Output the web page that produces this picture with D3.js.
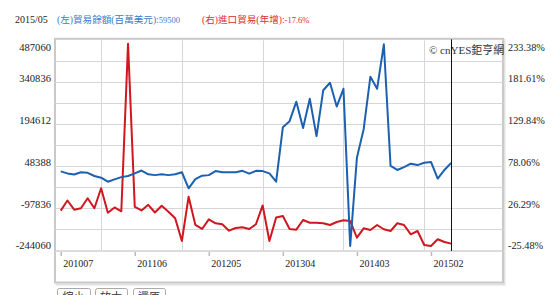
<!DOCTYPE html>
<html>
<head>
<meta charset="utf-8">
<script src="https://cdn.jsdelivr.net/npm/d3@7"></script>
<style>
  body { margin: 0; background: #fff; }
  svg text { font-family: "Liberation Serif", "Noto Sans CJK TC", serif; }
</style>
</head>
<body>
<svg id="chart" width="554" height="295"></svg>
<script>
// months 201007 .. 201505
const months = [
    "201007","201008","201009","201010","201011","201012",
    "201101","201102","201103","201104","201105","201106","201107","201108","201109","201110","201111","201112",
    "201201","201202","201203","201204","201205","201206","201207","201208","201209","201210","201211","201212",
    "201301","201302","201303","201304","201305","201306","201307","201308","201309","201310","201311","201312",
    "201401","201402","201403","201404","201405","201406","201407","201408","201409","201410","201411","201412",
    "201501","201502","201503","201504","201505"
];

// (左) 貿易餘額 (百萬美元)
const tradeBalance = [
    30000, 23000, 19000, 27000, 25000, 14000,
    8000, -6000, 2000, 10000, 14000, 23000, 33000, 20000, 17000, 20000, 17000, 20000,
    27000, -29000, 3000, 15000, 17000, 31000, 27000, 27000, 27000, 32000, 22000, 32000,
    31000, 23000, -6000, 184000, 205000, 273000, 181000, 283000, 153000, 313000, 339000, 256000,
    318000, -230000, 78000, 177000, 360000, 318000, 473000, 49000, 35000, 45000, 57000, 52000,
    60000, 63000, 5000, 35000, 59500
];

// (右) 進口貿易 年增 (%)
const importYoY = [
    23.1, 35.6, 24.3, 26.0, 38.4, 26.0,
    50.7, 20.6, 27.0, 22.3, 229.2, 27.9, 23.3, 30.3, 20.8, 29.2, 21.8, 13.7,
    -14.3, 40.3, 5.4, 0.5, 12.4, 7.5, 6.3, -1.6, 1.7, 2.6, 0.5, 6.3,
    29.5, -14.3, 14.7, 16.5, 0.5, -0.4, 11.6, 8.2, 8.2, 7.5, 5.4, 9.1,
    11.2, 10.3, -10.3, 1.3, -0.8, 5.4, 0.1, -2.0, 7.5, 5.4, -6.1, -2.0,
    -19.3, -20.5, -12.2, -15.6, -17.6
];

const leftTicks = [487060, 340836, 194612, 48388, -97836, -244060];
const rightTicks = [233.38, 181.61, 129.84, 78.06, 26.29, -25.48];
const xTickLabels = ["201007", "201106", "201205", "201304", "201403", "201502"];
const yearLines = ["201101", "201201", "201301", "201401", "201501"];

const svg = d3.select("#chart");
const plot = { left: 55, right: 503, top: 40.3, bottom: 250 };

const x = d3.scaleLinear()
    .domain([-0.85, 65.7])
    .range([plot.left, plot.right]);
const yL = d3.scaleLinear()
    .domain([-244060, 487060])
    .range([plot.bottom, plot.top]);
const yR = d3.scaleLinear()
    .domain([-25.48, 233.38])
    .range([plot.bottom, plot.top]);

const xi = m => x(months.indexOf(m));

// header
svg.append("text").attr("x", 15).attr("y", 23)
    .attr("font-size", 10).attr("fill", "#222").text("2015/05");
const tBlue = svg.append("text").attr("x", 57).attr("y", 23)
    .attr("font-size", 9.6).attr("fill", "#3a7bc8");
tBlue.append("tspan").text("(左)貿易餘額(百萬美元):");
tBlue.append("tspan").attr("font-size", 8.5).text(tradeBalance[tradeBalance.length - 1]);
const tRed = svg.append("text").attr("x", 202).attr("y", 23)
    .attr("font-size", 9.6).attr("fill", "#dd2a33");
tRed.append("tspan").text("(右)進口貿易(年增):");
tRed.append("tspan").attr("font-size", 8.5).text(importYoY[importYoY.length - 1] + "%");

// frame: plot + x-axis box
svg.append("rect")
    .attr("x", plot.left + 1.5).attr("y", plot.top - 0.5)
    .attr("width", plot.right - plot.left).attr("height", 285 - plot.top)
    .attr("fill", "none").attr("stroke", "#e2e2e2").attr("stroke-width", 2);
svg.append("rect")
    .attr("x", plot.left).attr("y", plot.top - 1.5)
    .attr("width", plot.right - plot.left).attr("height", 284 - plot.top)
    .attr("fill", "#fff").attr("stroke", "#c9c9c9").attr("stroke-width", 2);

// horizontal grid
const gridVals = d3.range(0, 11).map(k => -244060 + k * 73112);
svg.append("g").selectAll("line")
    .data(gridVals.slice(1, -1))
    .join("line")
    .attr("x1", plot.left).attr("x2", plot.right)
    .attr("y1", d => Math.round(yL(d)) + 0.5).attr("y2", d => Math.round(yL(d)) + 0.5)
    .attr("stroke", "#d6d6d6");

// vertical grid at January
svg.append("g").selectAll("line")
    .data(yearLines)
    .join("line")
    .attr("x1", d => Math.round(xi(d)) + 0.5).attr("x2", d => Math.round(xi(d)) + 0.5)
    .attr("y1", plot.top).attr("y2", plot.bottom)
    .attr("stroke", "#d6d6d6");

// plot/axis separator
svg.append("line")
    .attr("x1", plot.left).attr("x2", plot.right)
    .attr("y1", plot.bottom + 1).attr("y2", plot.bottom + 1)
    .attr("stroke", "#cfcfcf").attr("stroke-width", 1.5);

// copyright
svg.append("text").attr("x", 429).attr("y", 54)
    .attr("font-size", 11).attr("fill", "#333").text("© cnYES鉅亨網");

// lines
const lineL = d3.line().x((d, i) => x(i)).y(d => yL(d));
const lineR = d3.line().x((d, i) => x(i)).y(d => yR(d));

svg.append("path").datum(importYoY)
    .attr("d", lineR).attr("fill", "none")
    .attr("stroke", "#d0161f").attr("stroke-width", 2).attr("stroke-linejoin", "round");
svg.append("path").datum(tradeBalance)
    .attr("d", lineL).attr("fill", "none")
    .attr("stroke", "#1c60b0").attr("stroke-width", 2).attr("stroke-linejoin", "round");

// cursor line at last point
const lastX = Math.round(x(months.length - 1)) + 0.5;
svg.append("line")
    .attr("x1", lastX).attr("x2", lastX)
    .attr("y1", plot.top - 1).attr("y2", plot.bottom + 1)
    .attr("stroke", "#111").attr("stroke-width", 1);

// left axis
const axL = svg.append("g")
    .attr("transform", `translate(${plot.left - 4},0)`)
    .call(d3.axisLeft(yL).tickValues(leftTicks).tickSize(0).tickPadding(0)
        .tickFormat(d => String(d)));
axL.select(".domain").remove();
axL.selectAll("text")
    .attr("font-size", 10.6).attr("fill", "#222")
    .attr("dy", (d, i) => i === 0 ? "0.95em" : "-0.1em");

// right axis
const axR = svg.append("g")
    .attr("transform", `translate(${plot.right + 5},0)`)
    .call(d3.axisRight(yR).tickValues(rightTicks).tickSize(0).tickPadding(0)
        .tickFormat(d => d.toFixed(2) + "%"));
axR.select(".domain").remove();
axR.selectAll("text")
    .attr("font-size", 10.3).attr("fill", "#222")
    .attr("dy", (d, i) => i === 0 ? "0.95em" : "-0.1em");

// x axis
const axX = svg.append("g")
    .attr("transform", `translate(0,${plot.bottom + 2})`)
    .call(d3.axisBottom(x)
        .tickValues(xTickLabels.map(m => months.indexOf(m)))
        .tickFormat(i => months[i])
        .tickSize(4).tickPadding(2));
axX.select(".domain").remove();
axX.selectAll(".tick line").attr("stroke", "#bbb").attr("stroke-width", 1.5);
axX.selectAll("text")
    .attr("font-size", 10).attr("fill", "#222")
    .attr("text-anchor", "start").attr("x", 2).attr("dy", "0.9em");

// zoom buttons (partly cut off, as in the source page)
const buttons = [
    { label: "縮小", x: 57, w: 33 },
    { label: "放大", x: 95, w: 32 },
    { label: "還原", x: 133, w: 32 }
];
const btn = svg.append("g").selectAll("g").data(buttons).join("g");
btn.append("rect")
    .attr("x", d => d.x + 0.5).attr("y", 288.5).attr("width", d => d.w).attr("height", 16)
    .attr("rx", 2).attr("fill", "#fff").attr("stroke", "#aaa");
btn.append("text")
    .attr("x", d => d.x + d.w / 2).attr("y", 301)
    .attr("text-anchor", "middle").attr("font-size", 11).attr("fill", "#333")
    .text(d => d.label);
</script>
</body>
</html>
